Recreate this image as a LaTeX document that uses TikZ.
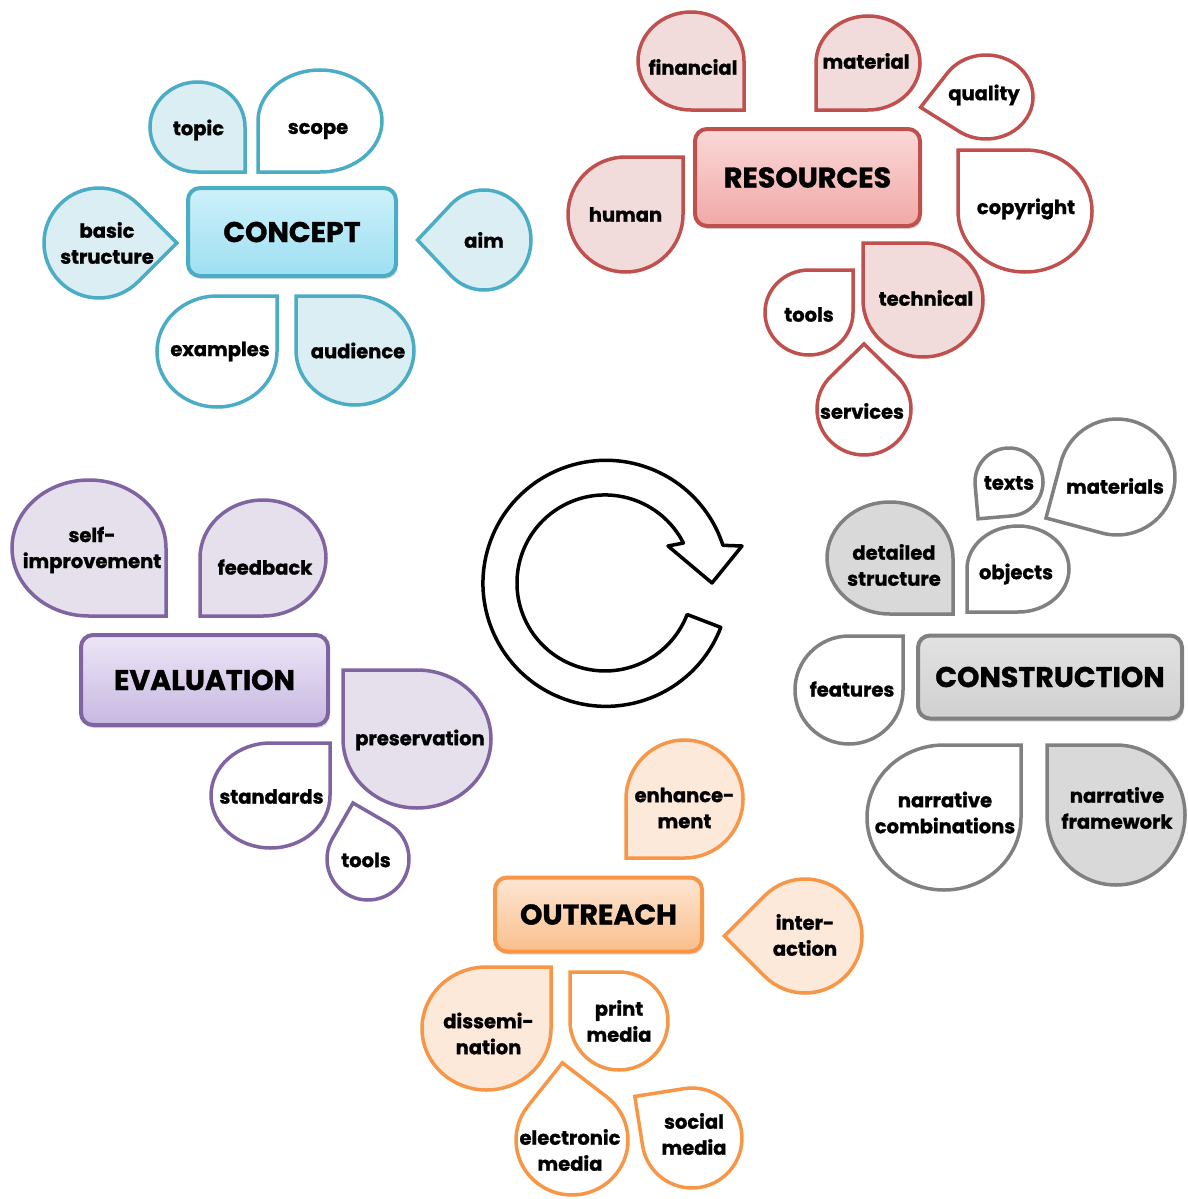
\documentclass[tikz,border=0pt]{standalone}
\usepackage{fontspec}
\setmainfont{Poppins}[BoldFeatures={FakeBold=1.2}]
\usetikzlibrary{shadows}
\definecolor{cBlue}{HTML}{4BACC6}\definecolor{cBlueL}{HTML}{DAEEF3}
\definecolor{cBlueT}{HTML}{CDF1FA}\definecolor{cBlueB}{HTML}{9EDFF2}
\definecolor{cRed}{HTML}{C0504D}\definecolor{cRedL}{HTML}{F2DCDB}
\definecolor{cRedT}{HTML}{FAD9D8}\definecolor{cRedB}{HTML}{F0A8A6}
\definecolor{cGray}{HTML}{808080}\definecolor{cGrayL}{HTML}{D9D9D9}
\definecolor{cGrayT}{HTML}{E2E2E2}\definecolor{cGrayB}{HTML}{D0D0D0}
\definecolor{cPurp}{HTML}{8064A2}\definecolor{cPurpL}{HTML}{E5E0EC}
\definecolor{cPurpT}{HTML}{ECE6F6}\definecolor{cPurpB}{HTML}{C8B8E2}
\definecolor{cOrng}{HTML}{F79646}\definecolor{cOrngL}{HTML}{FDE9D9}
\definecolor{cOrngT}{HTML}{FDE6D3}\definecolor{cOrngB}{HTML}{FABF8C}
\newcommand\lblfont{\fontsize{19.5}{26}\selectfont\bfseries}
\newcommand\hdfont{\fontsize{28.5}{32}\selectfont\bfseries}
% #1 name, #2 cx, #3 cy, #4 rx, #5 ry, #6 corner angle, #7 style, #8 text offset, #9 text
\newcommand\drop[9]{%
  \coordinate (#1c) at (#2,#3);
  \pgfmathsetmacro\dtx{#2+1.4142*#4*cos(#6)}%
  \pgfmathsetmacro\dty{#3+1.4142*#5*sin(#6)}%
  \pgfmathsetmacro\dsx{#2+#4*cos(#6+45)}%
  \pgfmathsetmacro\dsy{#3+#5*sin(#6+45)}%
  \pgfmathsetmacro\dsa{#6+45}%
  \pgfmathsetmacro\dea{#6+315}%
  \draw[#7] (\dtx,\dty) -- (\dsx,\dsy) arc[start angle=\dsa, end angle=\dea, x radius=#4, y radius=#5] -- cycle;
  \path (#1c) ++(#8) node[lbl] (#1) {#9};
}
\tikzset{
  lbl/.style={font=\lblfont, align=center, inner sep=0pt, text=black},
  dr/.style={line width=3.5pt},
  bf/.style={dr, draw=cBlue, fill=cBlueL}, bw/.style={dr, draw=cBlue, fill=white},
  rf/.style={dr, draw=cRed, fill=cRedL}, rw/.style={dr, draw=cRed, fill=white},
  gf/.style={dr, draw=cGray, fill=cGrayL}, gw/.style={dr, draw=cGray, fill=white},
  pf/.style={dr, draw=cPurp, fill=cPurpL}, pw/.style={dr, draw=cPurp, fill=white},
  of/.style={dr, draw=cOrng, fill=cOrngL}, ow/.style={dr, draw=cOrng, fill=white},
  hbox/.style={line width=4pt, rounded corners=12pt, font=\hdfont, text=black, inner sep=0pt,
    drop shadow={shadow xshift=1.5pt, shadow yshift=-3pt, opacity=0.3}},
}
\begin{document}
\begin{tikzpicture}[x=1pt,y=1pt,yscale=-1]
\useasboundingbox[fill=white] (0,0) rectangle (1187,1199);

% ---- cycle arrow
\coordinate (rc) at (605,583);
\draw[line width=3.5pt, fill=white, line join=round]
  (720.8,627.4) arc[start angle=21, end angle=342, radius=123]
  -- (742,546) -- (712,583) -- (668,546) -- (683.4,543)
  arc[start angle=333, end angle=21, radius=88] -- cycle;

% ---- CONCEPT
\node[hbox, draw=cBlue, top color=cBlueT, bottom color=cBlueB, minimum width=208pt, minimum height=88pt] (concept) at (292,232) {CONCEPT};
\drop{topic}{197.5}{127}{47.5}{45}{45}{bf}{1,3}{topic}
\drop{scope}{320}{121}{62}{51}{135}{bw}{-2,10}{scope}
\drop{basic}{99}{243}{55}{55}{0}{bf}{8,0}{basic\\structure}
\drop{aim}{484}{240}{47}{50}{180}{bf}{0,0}{aim}
\drop{examples}{217}{351.5}{60}{55.5}{315}{bw}{3,0}{examples}
\drop{audience}{355}{350.5}{59}{54.5}{225}{bf}{3,0}{audience}

% ---- RESOURCES
\node[hbox, draw=cRed, top color=cRedT, bottom color=cRedB, minimum width=225pt, minimum height=97pt] (resources) at (807.5,177.5) {RESOURCES};
\drop{financial}{691}{61}{53}{49}{45}{rf}{2,6}{financial}
\drop{material}{868}{63}{52}{47}{135}{rf}{-2,-2}{material}
\drop{quality}{986}{97}{47}{42}{170}{rw}{-2,-2}{quality}
\drop{human}{625.5}{214.5}{57.5}{57.5}{315}{rf}{0,0}{human}
\drop{copyright}{1025}{211}{67}{61}{225}{rw}{1,-2}{copyright}
\drop{technical}{923}{300}{60}{57}{225}{rf}{3,-2}{technical}
\drop{rtools}{809}{312.5}{44}{42.5}{315}{rw}{0,2}{tools}
\drop{services}{864}{409}{47}{46}{270}{rw}{-2,2}{services}

% ---- CONSTRUCTION
\node[hbox, draw=cGray, top color=cGrayT, bottom color=cGrayB, minimum width=264pt, minimum height=83pt] (construction) at (1050,677) {CONSTRUCTION};
\drop{texts}{1009}{482}{34}{34}{130}{gw}{0,1}{texts}
\drop{materials}{1117}{477}{58}{58}{150}{gw}{-2,9}{materials}
\drop{detailed}{890}{558}{63}{56}{45}{gf}{4,7}{detailed\\structure}
\drop{objects}{1018}{569}{51}{43}{135}{gw}{-2,5}{objects}
\drop{features}{849}{690}{54}{54}{315}{gw}{3,-1}{features}
\drop{narrcomb}{944}{817.5}{77}{72.5}{315}{gw}{1,-5}{narrative\\combinations}
\drop{narrfw}{1116}{815}{69}{70}{225}{gf}{1,-7}{narrative\\framework}

% ---- EVALUATION
\node[hbox, draw=cPurp, top color=cPurpT, bottom color=cPurpB, minimum width=247pt, minimum height=90pt] (evaluation) at (204.5,680) {EVALUATION};
\drop{selfimp}{89}{548}{77}{68}{45}{pf}{3,2}{self-\\improvement}
\drop{feedback}{263}{558}{63}{58}{135}{pf}{2,9}{feedback}
\drop{preservation}{417}{739}{74}{69}{225}{pf}{3,1}{preservation}
\drop{standards}{270.5}{795.5}{59.5}{52.5}{315}{pw}{1,1}{standards}
\drop{etools}{368}{859}{41}{41}{255}{pw}{-2,1}{tools}

% ---- OUTREACH
\node[hbox, draw=cOrng, top color=cOrngT, bottom color=cOrngB, minimum width=207pt, minimum height=74pt] (outreach) at (598.5,914.5) {OUTREACH};
\drop{enhancement}{684.5}{799}{58.5}{59}{135}{of}{0,9}{enhance-\\ment}
\drop{interaction}{805}{936}{57}{57}{180}{of}{0,-1}{inter-\\action}
\drop{dissemination}{486.5}{1028.5}{64.5}{61.5}{315}{of}{2,5}{dissemi-\\nation}
\drop{print}{619}{1021}{49}{49}{225}{ow}{0,0}{print\\media}
\drop{electronic}{572}{1140}{56}{55}{263}{ow}{-2,10}{electronic\\media}
\drop{social}{692}{1138}{50}{50}{216}{ow}{2,-4}{social\\media}
\end{tikzpicture}
\end{document}
